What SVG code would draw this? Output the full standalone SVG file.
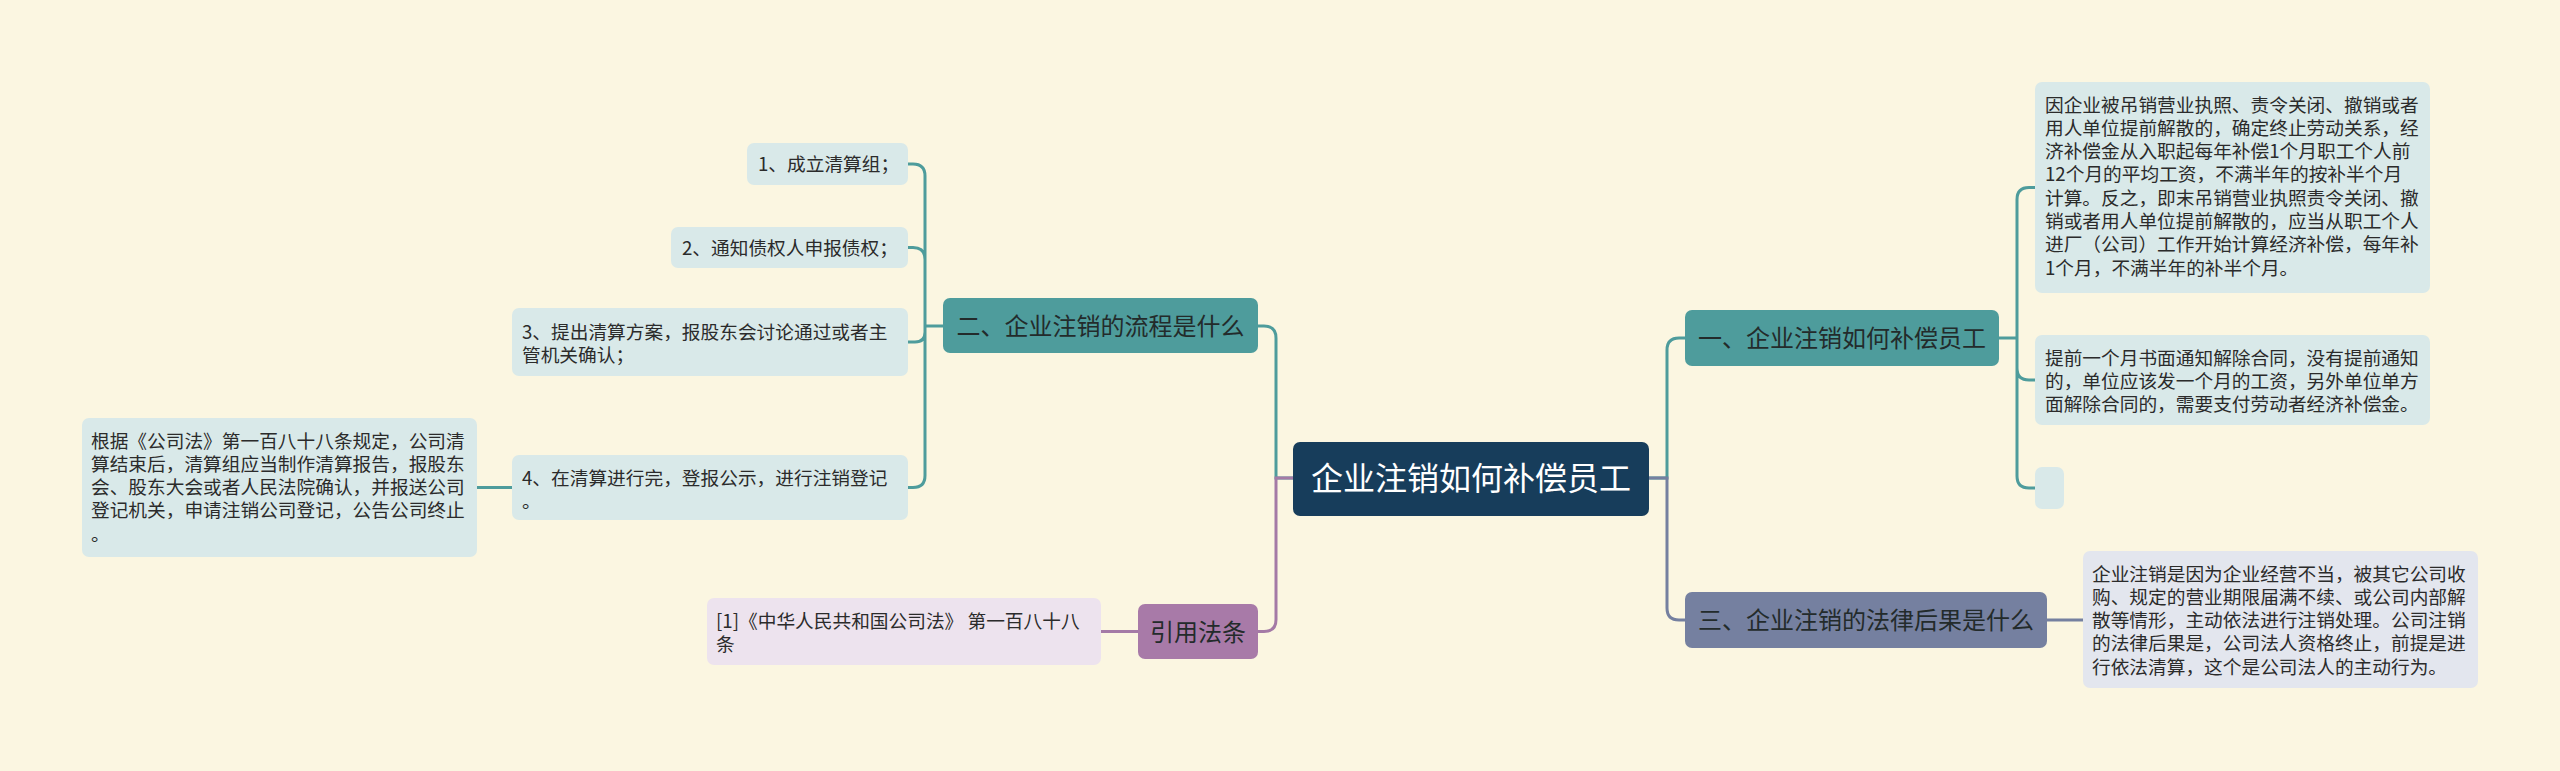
<svg xmlns="http://www.w3.org/2000/svg" width="2560" height="771" viewBox="0 0 2560 771">
<style>
.bg{fill:#fbf6e1}
.t{font-family:"Noto Sans CJK SC","Noto Sans",sans-serif;fill:#2b2b2b}
.d{font-size:18.7px}
.n{font-size:24px;fill:#232b2b}
.c{font-size:32px;fill:#ffffff}
.bt{fill:#d9e9e9}
.bl{fill:#ede3ee}
.bg2{fill:#e3e6ee}
.lt{fill:none;stroke:#4e9c9c;stroke-width:3}
.lp{fill:none;stroke:#a47aa6;stroke-width:3}
.lg{fill:none;stroke:#7580a0;stroke-width:3}
</style>
<rect class="bg" x="0" y="0" width="2560" height="771"/>
<g id="connectors">
<path class="lt" d="M943,326 L925,326 M925,326 L925,176 Q925,164 913,164 L908,164 M925,326 L925,259.5 Q925,247.5 913,247.5 L908,247.5 M925,326 L925,332 Q925,342 915,342 L908,342 M925,326 L925,475.5 Q925,487.5 913,487.5 L908,487.5"/>
<path class="lt" d="M512,487.5 L477,487.5"/>
<path class="lt" d="M1293,478 L1276,478 L1276,338 Q1276,326 1264,326 L1258,326"/>
<path class="lp" d="M1293,478 L1276,478 L1276,619.5 Q1276,631.5 1264,631.5 L1258,631.5"/>
<path class="lp" d="M1138,631.5 L1101,631.5"/>
<path class="lt" d="M1649,478 L1667,478 L1667,350 Q1667,338 1679,338 L1685,338"/>
<path class="lg" d="M1649,478 L1667,478 L1667,608 Q1667,620 1679,620 L1685,620"/>
<path class="lg" d="M2047,620 L2083,620"/>
<path class="lt" d="M1999,338 L2017,338 M2017,338 L2017,199.5 Q2017,187.5 2029,187.5 L2035,187.5 M2017,338 L2017,368 Q2017,380 2029,380 L2035,380 M2017,338 L2017,476 Q2017,488 2029,488 L2035,488"/>
</g>
<g id="root">
<rect x="1293" y="442" width="356" height="74" rx="7" fill="#173d5b"/>
<text class="t c" x="1471" y="490" text-anchor="middle">企业注销如何补偿员工</text>
</g>
<g id="n2">
<rect x="943" y="298" width="315" height="55" rx="7" fill="#4e9c9c"/>
<text class="t n" x="1100.5" y="334.5" text-anchor="middle">二、企业注销的流程是什么</text>
</g>
<g id="n2-1">
<rect class="bt" x="747" y="143" width="161" height="42" rx="7"/>
<text class="t d" x="758" y="171">1、成立清算组；</text>
</g>
<g id="n2-2">
<rect class="bt" x="671" y="227" width="237" height="41" rx="7"/>
<text class="t d" x="682" y="254.5">2、通知债权人申报债权；</text>
</g>
<g id="n2-3">
<rect class="bt" x="512" y="308" width="396" height="68" rx="7"/>
<text class="t d" x="522" y="338.5">3、提出清算方案，报股东会讨论通过或者主</text>
<text class="t d" x="522" y="361.8">管机关确认；</text>
</g>
<g id="n2-4">
<rect class="bt" x="512" y="455" width="396" height="65" rx="7"/>
<text class="t d" x="522" y="484.5">4、在清算进行完，登报公示，进行注销登记</text>
<text class="t d" x="522" y="507.8">。</text>
</g>
<g id="n2-4-1">
<rect class="bt" x="82" y="418" width="395" height="139" rx="7"/>
<text class="t d" x="91" y="447.5">根据《公司法》第一百八十八条规定，公司清</text>
<text class="t d" x="91" y="470.8">算结束后，清算组应当制作清算报告，报股东</text>
<text class="t d" x="91" y="494.1">会、股东大会或者人民法院确认，并报送公司</text>
<text class="t d" x="91" y="517.4">登记机关，申请注销公司登记，公告公司终止</text>
<text class="t d" x="91" y="540.7">。</text>
</g>
<g id="ref">
<rect x="1138" y="604" width="120" height="55" rx="7" fill="#a87aa8"/>
<text class="t n" x="1198" y="640.5" text-anchor="middle">引用法条</text>
</g>
<g id="ref-1">
<rect class="bl" x="707" y="598" width="394" height="67" rx="7"/>
<text class="t d" x="716" y="627.5">[1]《中华人民共和国公司法》 第一百八十八</text>
<text class="t d" x="716" y="650.8">条</text>
</g>
<g id="n1">
<rect x="1685" y="310" width="314" height="56" rx="7" fill="#4e9c9c"/>
<text class="t n" x="1842" y="347" text-anchor="middle">一、企业注销如何补偿员工</text>
</g>
<g id="n1-1">
<rect class="bt" x="2035" y="82" width="395" height="211" rx="7"/>
<text class="t d" x="2045" y="111.5">因企业被吊销营业执照、责令关闭、撤销或者</text>
<text class="t d" x="2045" y="134.8">用人单位提前解散的，确定终止劳动关系，经</text>
<text class="t d" x="2045" y="158.1">济补偿金从入职起每年补偿1个月职工个人前</text>
<text class="t d" x="2045" y="181.4">12个月的平均工资，不满半年的按补半个月</text>
<text class="t d" x="2045" y="204.7">计算。反之，即末吊销营业执照责令关闭、撤</text>
<text class="t d" x="2045" y="228">销或者用人单位提前解散的，应当从职工个人</text>
<text class="t d" x="2045" y="251.3">进厂（公司）工作开始计算经济补偿，每年补</text>
<text class="t d" x="2045" y="274.6">1个月，不满半年的补半个月。</text>
</g>
<g id="n1-2">
<rect class="bt" x="2035" y="335" width="395" height="90" rx="7"/>
<text class="t d" x="2045" y="364.5">提前一个月书面通知解除合同，没有提前通知</text>
<text class="t d" x="2045" y="387.8">的，单位应该发一个月的工资，另外单位单方</text>
<text class="t d" x="2045" y="411.1">面解除合同的，需要支付劳动者经济补偿金。</text>
</g>
<g id="n1-3">
<rect class="bt" x="2035" y="467" width="29" height="42" rx="7"/>
</g>
<g id="n3">
<rect x="1685" y="592" width="362" height="56" rx="7" fill="#7580a0"/>
<text class="t n" x="1866" y="629" text-anchor="middle">三、企业注销的法律后果是什么</text>
</g>
<g id="n3-1">
<rect class="bg2" x="2083" y="551" width="395" height="137" rx="7"/>
<text class="t d" x="2092" y="580.5">企业注销是因为企业经营不当，被其它公司收</text>
<text class="t d" x="2092" y="603.8">购、规定的营业期限届满不续、或公司内部解</text>
<text class="t d" x="2092" y="627.1">散等情形，主动依法进行注销处理。公司注销</text>
<text class="t d" x="2092" y="650.4">的法律后果是，公司法人资格终止，前提是进</text>
<text class="t d" x="2092" y="673.7">行依法清算，这个是公司法人的主动行为。</text>
</g>
</svg>
